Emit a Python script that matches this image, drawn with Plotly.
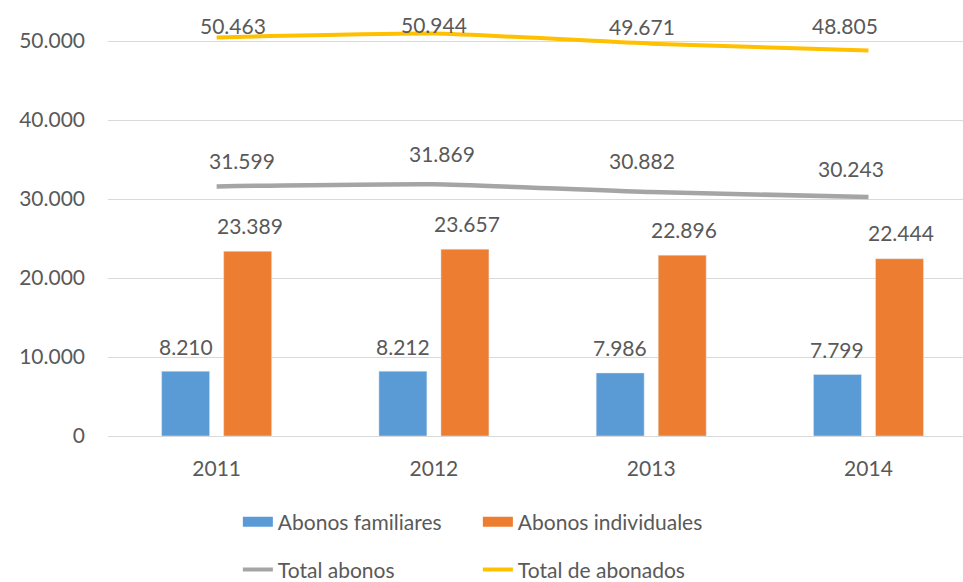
import plotly.graph_objects as go

years = ["2011", "2012", "2013", "2014"]
familiares = [8210, 8212, 7986, 7799]
individuales = [23389, 23657, 22896, 22444]
total_abonos = [31599, 31869, 30882, 30243]
total_abonados = [50463, 50944, 49671, 48805]

BLUE = "#5B9BD5"
ORANGE = "#ED7D31"
GRAY = "#A5A5A5"
YELLOW = "#FFC000"
TXT = "#595959"
FONT = "Lato"
FS = 21

# label offsets (pixels) for the line data labels
abonos_dx = [25, 8, -9, -17]
abonos_dy = [26, 31, 32, 29]
abonados_dx = [16, 0, -9, -23]
abonados_dy = [12, 9, 17, 25]

fig = go.Figure()
fig.add_trace(go.Bar(x=years, y=familiares, name="Abonos familiares",
                     marker_color=BLUE, showlegend=False))
fig.add_trace(go.Bar(x=years, y=individuales, name="Abonos individuales",
                     marker_color=ORANGE, showlegend=False))
fig.add_trace(go.Scatter(x=years, y=total_abonos, name="Total abonos", mode="lines",
                         line=dict(color=GRAY, width=4.5, shape="spline", smoothing=0.5),
                         showlegend=False))
fig.add_trace(go.Scatter(x=years, y=total_abonados, name="Total de abonados", mode="lines",
                         line=dict(color=YELLOW, width=4, shape="spline", smoothing=0.5),
                         showlegend=False))

# legend entries
fig.add_trace(go.Scatter(x=[None], y=[None], mode="lines", name="Abonos familiares",
                         line=dict(color=BLUE, width=10), legend="legend"))
fig.add_trace(go.Scatter(x=[None], y=[None], mode="lines", name="Abonos individuales",
                         line=dict(color=ORANGE, width=10), legend="legend"))
fig.add_trace(go.Scatter(x=[None], y=[None], mode="lines", name="Total abonos",
                         line=dict(color=GRAY, width=4), legend="legend2"))
fig.add_trace(go.Scatter(x=[None], y=[None], mode="lines", name="Total de abonados",
                         line=dict(color=YELLOW, width=4), legend="legend2"))

def fmt(v):
    return f"{v:,}".replace(",", ".")

ann = []
for i, y in enumerate(years):
    ann.append(dict(x=i, y=familiares[i], xref="x", yref="y", text=fmt(familiares[i]),
                    showarrow=False, yshift=25, xshift=-31, yanchor="middle"))
    ann.append(dict(x=i, y=individuales[i], xref="x", yref="y", text=fmt(individuales[i]),
                    showarrow=False, yshift=26, xshift=33, yanchor="middle"))
    ann.append(dict(x=i, y=total_abonos[i], xref="x", yref="y", text=fmt(total_abonos[i]),
                    showarrow=False, yshift=abonos_dy[i], xshift=abonos_dx[i], yanchor="middle"))
    ann.append(dict(x=i, y=total_abonados[i], xref="x", yref="y", text=fmt(total_abonados[i]),
                    showarrow=False, yshift=abonados_dy[i], xshift=abonados_dx[i], yanchor="middle"))

legend_common = dict(orientation="h", xref="container", yref="container",
                     xanchor="left", yanchor="middle", entrywidth=195,
                     font=dict(family=FONT, size=FS, color=TXT), bgcolor="rgba(0,0,0,0)")

fig.update_layout(
    width=963, height=582,
    margin=dict(l=108, r=0, t=0, b=146),
    paper_bgcolor="white", plot_bgcolor="white",
    barmode="group", bargap=0.429, bargroupgap=0.226,
    separators=",.",
    font=dict(family=FONT, size=FS, color=TXT),
    annotations=ann,
    legend=dict(x=0.247, y=0.103, **legend_common),
    legend2=dict(x=0.247, y=0.021, **legend_common),
    xaxis=dict(type="category", range=[-0.5, 3.435], showgrid=False, showline=False,
               zeroline=False, ticks="", ticklabelstandoff=18,
               tickfont=dict(family=FONT, size=FS, color=TXT)),
    yaxis=dict(range=[0, 55195], dtick=10000, tickformat=",d", showgrid=True,
               gridcolor="#D9D9D9", gridwidth=1, zeroline=True, zerolinecolor="#D9D9D9",
               zerolinewidth=1, showline=False, ticks="", ticklabelstandoff=22,
               tickfont=dict(family=FONT, size=FS, color=TXT)),
)

fig.write_html("out.html", config={"displayModeBar": False},
               post_script="document.body.style.margin='0';document.body.style.overflow='hidden';")
